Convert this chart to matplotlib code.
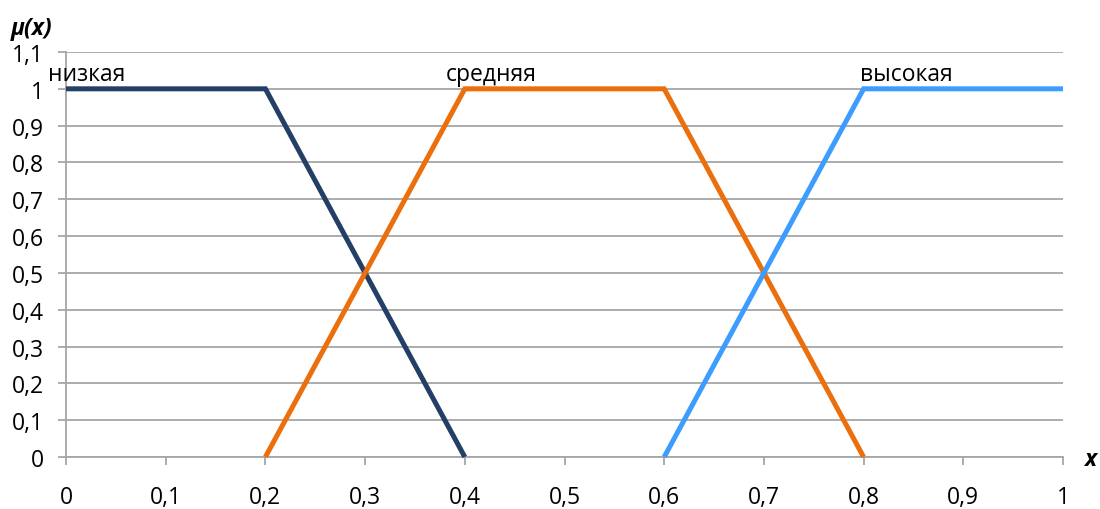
import matplotlib
matplotlib.use("Agg")
import matplotlib.pyplot as plt

plt.rcParams['font.family'] = ['Open Sans', 'DejaVu Sans']

low_x = [0, 0.2, 0.4]
low_y = [1, 1, 0]
mid_x = [0.2, 0.4, 0.6, 0.8]
mid_y = [0, 1, 1, 0]
high_x = [0.6, 0.8, 1.0]
high_y = [0, 1, 1]
labels = ["низкая", "средняя", "высокая"]
x_ticks = [0, 0.1, 0.2, 0.3, 0.4, 0.5, 0.6, 0.7, 0.8, 0.9, 1.0]
y_ticks = [0, 0.1, 0.2, 0.3, 0.4, 0.5, 0.6, 0.7, 0.8, 0.9, 1.0, 1.1]

def fmt(v):
    s = f"{v:.1f}".rstrip('0').rstrip('.')
    return s.replace('.', ',')

fig = plt.figure(figsize=(11, 5.1), dpi=100)
ax = fig.add_axes([66/1100, 1-458/510, (1063-66)/1100, (458-53)/510])

c_low = '#233f66'
c_mid = '#eb6f0d'
c_high = '#3d9dff'
kw = dict(lw=3.6, solid_capstyle='butt', solid_joinstyle='miter', zorder=3, clip_on=False)
ax.plot(low_x, low_y, color=c_low, **kw)
ax.plot(mid_x, mid_y, color=c_mid, **kw)
ax.plot(high_x, high_y, color=c_high, **kw)

ax.set_xlim(0, 1)
ax.set_ylim(0, 1.1)
ax.set_xticks(x_ticks)
ax.set_xticklabels([fmt(v) for v in x_ticks])
ax.set_yticks(y_ticks)
ax.set_yticklabels([fmt(v) for v in y_ticks])

grid_c = '#a6a6a6'
ax.yaxis.grid(True, color=grid_c, lw=1.3)
ax.set_axisbelow(True)
for s in ['top', 'right']:
    ax.spines[s].set_visible(False)
for s in ['left', 'bottom']:
    ax.spines[s].set_color(grid_c)
    ax.spines[s].set_linewidth(1.3)
fs = 16.5
ax.tick_params(axis='x', length=6, width=1.3, color=grid_c, pad=14, labelsize=fs, labelcolor='black')
ax.tick_params(axis='y', length=6, width=1.3, color=grid_c, pad=10, labelsize=fs, labelcolor='black')

ax.text(-0.018, 1.04, labels[0], fontsize=fs, ha='left', va='center')
ax.text(0.427, 1.04, labels[1], fontsize=fs, ha='center', va='center')
ax.text(0.8425, 1.04, labels[2], fontsize=fs, ha='center', va='center')

fig.text(32/1100, 1-29/510, "μ(x)", fontsize=fs, fontweight='bold', fontstyle='italic', ha='center', va='center')
fig.text(1090/1100, 1-460/510, "x", fontsize=fs, fontweight='bold', fontstyle='italic', ha='center', va='center')

fig.savefig("out.png", dpi=100)
